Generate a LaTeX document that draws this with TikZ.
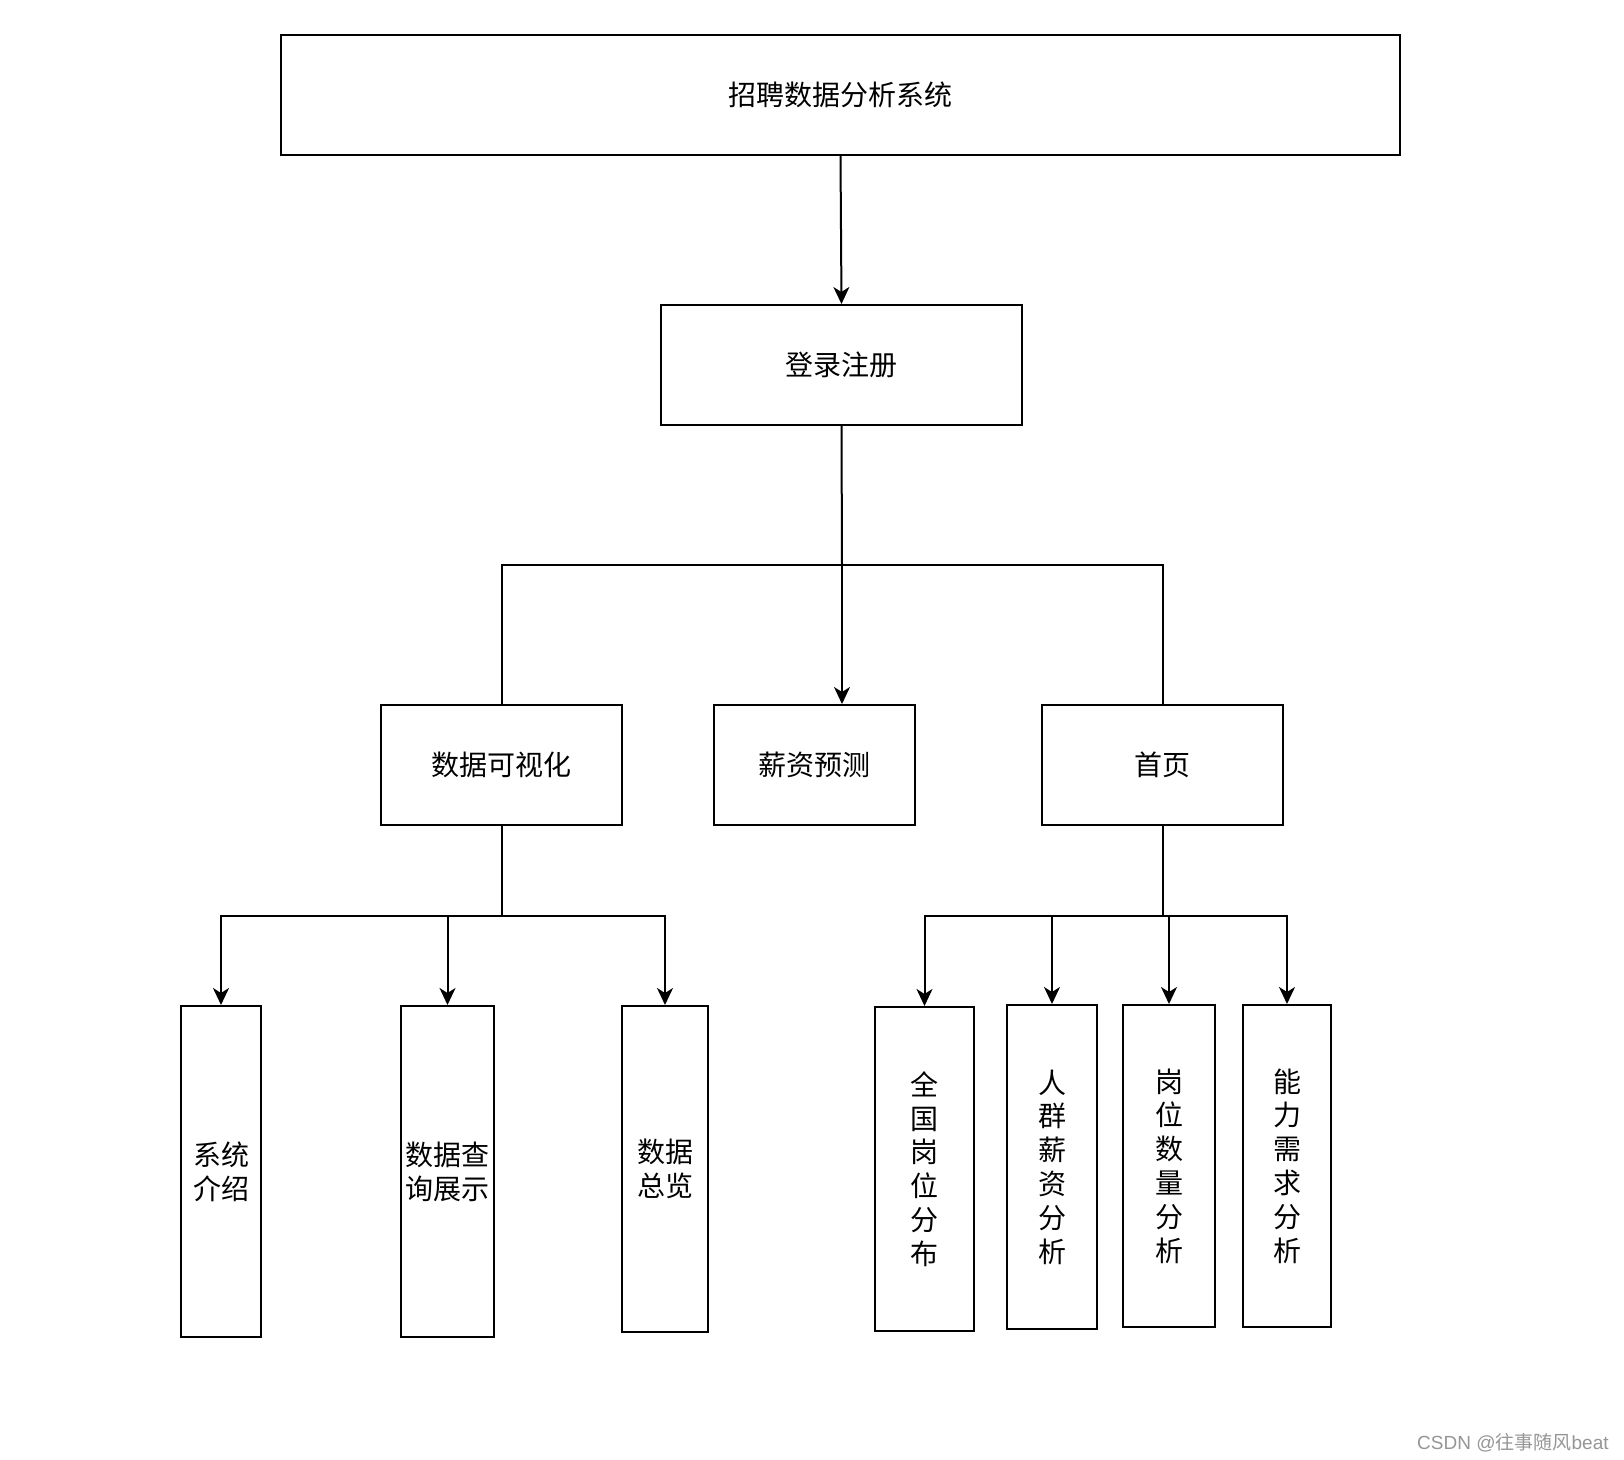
\documentclass[tikz,border=0pt]{standalone}
\usepackage{fontspec}
\newfontfamily\cjk{Noto Sans CJK SC}
\newfontfamily\wmlatin{Liberation Sans}
\usetikzlibrary{arrows.meta}
\begin{document}
\begin{tikzpicture}[x=0.5pt,y=-0.5pt,
  box/.style={draw=black, line width=1pt, rectangle, inner sep=0pt, align=center,
    font=\cjk\fontsize{14pt}{16.9pt}\selectfont},
  conn/.style={draw=black, line width=1pt},
  arr/.style={conn, -{Stealth[length=8.5pt, width=8pt, inset=2.5pt]}}]
\useasboundingbox[fill=white] (0,0) rectangle (1624,1460);

% top level
\node[box, minimum width=559.5pt, minimum height=60pt] (top) at (840.5,95) {招聘数据分析系统};
\node[box, minimum width=180.5pt, minimum height=60pt] (login) at (841.5,365) {登录注册};

% second level
\node[box, minimum width=120.5pt, minimum height=60pt] (vis) at (501.5,765) {数据可视化};
\node[box, minimum width=100.5pt, minimum height=60pt] (salary) at (814,765) {薪资预测};
\node[box, minimum width=120.5pt, minimum height=60pt] (home) at (1162.5,765) {首页};

% third level, left
\node[box, minimum width=40pt, minimum height=165.5pt] (sys) at (221,1171.5) {系统\\介绍};
\node[box, minimum width=46.5pt, minimum height=165.5pt] (query) at (447.5,1171.5) {数据查\\询展示};
\node[box, minimum width=43pt, minimum height=163pt] (over) at (665,1169) {数据\\总览};

% third level, right
\node[box, minimum width=49.5pt, minimum height=162pt] (nat) at (924.5,1169) {全\\国\\岗\\位\\分\\布};
\node[box, minimum width=45pt, minimum height=162pt] (crowd) at (1052,1167) {人\\群\\薪\\资\\分\\析};
\node[box, minimum width=46pt, minimum height=161pt] (jobs) at (1169,1166) {岗\\位\\数\\量\\分\\析};
\node[box, minimum width=44pt, minimum height=161pt] (skill) at (1287,1166) {能\\力\\需\\求\\分\\析};

% junction coordinates
\coordinate (jc) at (842,565);
\coordinate (jl) at (501.5,916);
\coordinate (jr) at (1162.5,916);

% connectors
\draw[arr] (top.south) -- (login.north);
\draw[conn] (login.south) -- (jc);
\draw[conn] (vis.north) -- (vis.north |- jc) -- (home.north |- jc) -- (home.north);
\draw[arr] (jc) -- (jc |- salary.north);

\draw[conn] (vis.south) -- (jl);
\draw[arr] (jl) -| (sys.north);
\draw[arr] (jl) -| (query.north);
\draw[arr] (jl) -| (over.north);

\draw[conn] (home.south) -- (jr);
\draw[arr] (jr) -| (nat.north);
\draw[arr] (jr) -| (crowd.north);
\draw[arr] (jr) -| (jobs.north);
\draw[arr] (jr) -| (skill.north);

% watermark
\node[text={rgb,255:red,150;green,150;blue,150}, inner sep=0pt, anchor=east,
  font=\wmlatin\fontsize{9.5pt}{11pt}\selectfont] (wm) at (1609,1443)
  {CSDN @{\cjk 往事随风}beat};
\end{tikzpicture}
\end{document}
